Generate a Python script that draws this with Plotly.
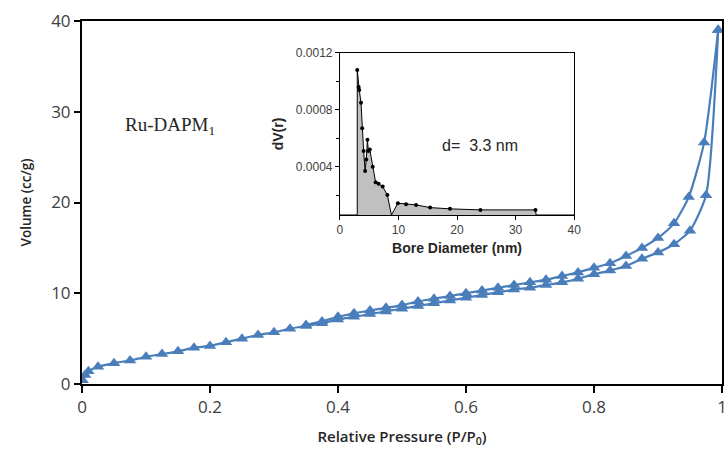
import plotly.graph_objects as go

# Main isotherm data
ads_p = [0.001, 0.005, 0.01, 0.025, 0.05, 0.075, 0.1, 0.125, 0.15, 0.175, 0.2, 0.225, 0.25, 0.275,
         0.3, 0.325, 0.35, 0.375, 0.4, 0.425, 0.45, 0.475, 0.5, 0.525, 0.55, 0.575, 0.6, 0.625,
         0.65, 0.675, 0.7, 0.725, 0.75, 0.775, 0.8, 0.825, 0.85, 0.875, 0.9, 0.925, 0.95, 0.975, 0.994]
ads_v = [0.4, 1.0, 1.4, 1.9, 2.3, 2.6, 3.0, 3.3, 3.6, 4.0, 4.2, 4.6, 5.0, 5.4,
         5.7, 6.1, 6.4, 6.7, 7.1, 7.4, 7.7, 8.0, 8.3, 8.6, 8.9, 9.2, 9.5, 9.8,
         10.1, 10.4, 10.6, 10.9, 11.2, 11.6, 12.1, 12.5, 13.0, 13.8, 14.5, 15.4, 16.9, 20.8, 39.0]
des_p = [0.994, 0.972, 0.948, 0.925, 0.9, 0.875, 0.85, 0.825, 0.8, 0.775, 0.75, 0.725, 0.7,
         0.675, 0.65, 0.625, 0.6, 0.575, 0.55, 0.525, 0.5, 0.475, 0.45, 0.425, 0.4, 0.375, 0.35]
des_v = [39.0, 26.6, 20.6, 17.7, 16.1, 15.0, 14.1, 13.3, 12.8, 12.3, 11.9, 11.5, 11.2,
         10.9, 10.6, 10.3, 10.0, 9.7, 9.4, 9.1, 8.7, 8.4, 8.1, 7.8, 7.4, 6.9, 6.5]

# Inset pore size distribution
pore_d = [2.96, 3.2, 3.3, 3.6, 3.8, 4.05, 4.3, 4.5, 4.7, 4.85, 5.1, 5.6, 6.1, 6.6, 7.3, 8.1,
          9.9, 11.3, 13.0, 15.4, 18.8, 24.0, 33.4]
pore_v = [0.00108, 0.00096, 0.00094, 0.00085, 0.00067, 0.00051, 0.00037, 0.00045, 0.00059, 0.00051,
          0.00052, 0.00040, 0.00029, 0.00028, 0.00026, 0.00020,
          0.000143, 0.000136, 0.000131, 0.000112, 0.000103, 0.0000958, 0.0000958]
base_v = 0.00006

blue = "rgb(74,126,187)"
fig = go.Figure()

for px, py in ((ads_p, ads_v), (des_p, des_v)):
    fig.add_trace(go.Scatter(x=px, y=py, mode="lines+markers",
                             line=dict(color=blue, width=2.2, shape="spline", smoothing=0.6),
                             marker=dict(symbol="triangle-up", size=11, color=blue),
                             showlegend=False, xaxis="x", yaxis="y"))

# inset fill + line
fx = [0, pore_d[0]] + pore_d[:16] + [8.8] + pore_d[16:] + [33.5, 40]
fy = [base_v, base_v] + pore_v[:16] + [base_v] + pore_v[16:] + [base_v, base_v]
fig.add_trace(go.Scatter(x=fx, y=fy, mode="lines", fill="tozeroy",
                         fillcolor="rgb(192,192,192)", line=dict(color="black", width=1),
                         showlegend=False, xaxis="x2", yaxis="y2"))
fig.add_trace(go.Scatter(x=pore_d, y=pore_v, mode="markers",
                         marker=dict(color="black", size=4), showlegend=False,
                         xaxis="x2", yaxis="y2"))

main_fam = "Open Sans, sans-serif"
tickfont = dict(family=main_fam, size=17, color="#404040")
inset_font = dict(family="Liberation Sans, Arial, sans-serif", size=12, color="#404040")
xtitle_font = dict(family=main_fam, size=15, color="#262626", weight=600)
ytitle_font = dict(family=main_fam, size=13.5, color="#262626", weight=600)
inset_title = dict(family="Liberation Sans, Arial, sans-serif", size=14, color="#262626")

fig.update_layout(
    width=726, height=459,
    margin=dict(l=82, r=4, t=21, b=75),
    paper_bgcolor="white", plot_bgcolor="white",
    xaxis=dict(range=[0, 1], tickvals=[0, 0.2, 0.4, 0.6, 0.8, 1], ticktext=["0", "0.2", "0.4", "0.6", "0.8", "1"],
               showline=True, linecolor="black", linewidth=2, mirror=True,
               ticks="outside", ticklen=7, tickwidth=2, tickcolor="black",
               showgrid=False, zeroline=False, tickfont=tickfont, automargin=False,
               ticklabeloverflow="allow",
               title=dict(text="Relative Pressure (P/P<sub>0</sub>)", font=xtitle_font, standoff=14),
               domain=[0, 1]),
    yaxis=dict(range=[0, 40], tickvals=[0, 10, 20, 30, 40],
               showline=True, linecolor="black", linewidth=2, mirror=True,
               ticks="outside", ticklen=6, tickwidth=2, tickcolor="black",
               showgrid=False, zeroline=False, tickfont=tickfont, automargin=False,
               ticklabeloverflow="allow",
               title=dict(text="Volume (cc/g)", font=ytitle_font, standoff=16),
               domain=[0, 1]),
    xaxis2=dict(domain=[0.403, 0.769], anchor="y2", range=[0, 40], tickvals=[0, 10, 20, 30, 40],
                showline=True, linecolor="black", linewidth=1, mirror=True,
                ticks="outside", ticklen=4, tickcolor="black", showgrid=False, zeroline=False,
                tickfont=inset_font, automargin=False,
                title=dict(text="<b>Bore Diameter (nm)</b>", font=inset_title, standoff=6)),
    yaxis2=dict(domain=[0.4656, 0.912], anchor="x2", range=[base_v, 0.0012],
                tickvals=[0.0004, 0.0008, 0.0012], ticktext=["0.0004", "0.0008", "0.0012"],
                showline=True, linecolor="black", linewidth=1, mirror=True,
                ticks="outside", ticklen=4, tickcolor="black", showgrid=False, zeroline=False,
                minor=dict(tickvals=[0.0002, 0.0006, 0.001], ticks="outside", ticklen=3, tickcolor="black"),
                tickfont=inset_font, automargin=False,
                title=dict(text="<b>dV(r)</b>", font=inset_title, standoff=8)),
    annotations=[
        dict(x=24, y=0.00055, xref="x2", yref="y2", text="d=  3.3 nm", showarrow=False,
             font=dict(family="Liberation Sans, Arial, sans-serif", size=16, color="#262626")),
        dict(x=0.064, y=28.4, xref="x", yref="y", text="Ru-DAPM<sub>1</sub>", showarrow=False,
             xanchor="left", font=dict(family="Liberation Serif, Times New Roman, serif", size=19, color="#262626")),
    ],
)

fig.write_html("out.html")
